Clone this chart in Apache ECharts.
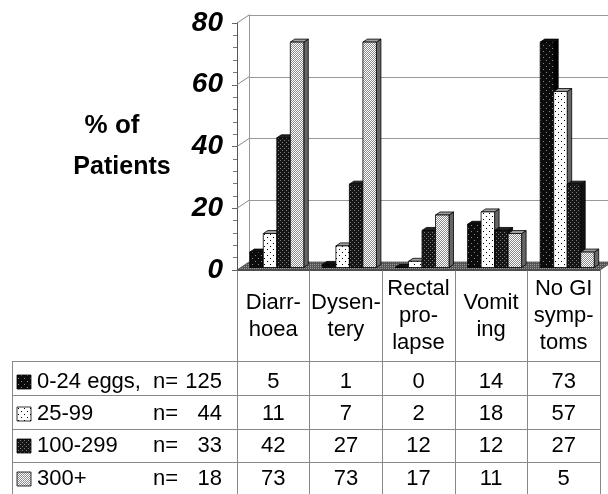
<!DOCTYPE html>
<html><head><meta charset="utf-8">
<script src="https://cdn.jsdelivr.net/npm/echarts@6/dist/echarts.min.js"></script>
<style>html,body{margin:0;padding:0;background:#fff}#c{width:608px;height:494px}</style>
</head><body><div id="c"></div>
<script>
// ---- data ----
const categories = ['Diarr-\nhoea', 'Dysen-\ntery', 'Rectal\npro-\nlapse', 'Vomit\ning', 'No GI\nsymp-\ntoms'];
const groupLabels = ['0-24 eggs,', '25-99', '100-299', '300+'];
const groupN = [125, 44, 33, 18];
const eggs0to24 = [5, 1, 0, 14, 73];
const eggs25to99 = [11, 7, 2, 18, 57];
const eggs100to299 = [42, 27, 12, 12, 27];
const eggs300plus = [73, 73, 17, 11, 5];
const yTicks = [0, 20, 40, 60, 80];
const seriesValues = [eggs0to24, eggs25to99, eggs100to299, eggs300plus];

// ---- patterns ----
function makePattern(w, h, bg, dots) {
  const c = document.createElement('canvas');
  c.width = w; c.height = h;
  const g = c.getContext('2d');
  g.fillStyle = bg; g.fillRect(0, 0, w, h);
  dots.forEach(function (d) { g.fillStyle = d[2]; g.fillRect(d[0], d[1], 1, 1); });
  return { image: c, repeat: 'repeat' };
}
const pats = [
  makePattern(6, 6, '#0c0c0c', [[0, 0, '#8a8a8a'], [3, 3, '#8a8a8a']]),
  makePattern(6, 6, '#ffffff', [[0, 0, '#000'], [3, 3, '#000']]),
  makePattern(4, 4, '#161616', [[0, 0, '#7a7a7a'], [2, 2, '#7a7a7a']]),
  makePattern(2, 2, '#8c8c8c', [[0, 0, '#fff'], [1, 1, '#fff']])
];
const topFills = ['#111', '#a0a0a0', '#222', '#a0a0a0'];
const sideFills = ['#000', '#666', '#111', '#666'];
const floorPat = makePattern(2, 2, '#555', [[0, 0, '#9a9a9a']]);

const DX0 = 3.5, DY0 = -2.5, DX = 4.5, DY = -3, WDX = 12, WDY = -8;
const FONT = "'Liberation Sans', Arial, sans-serif";

function barRender(si) {
  return function (params, api) {
    const cat = api.value(0), v = api.value(1);
    const p = api.coord([cat, v]);
    const p0 = api.coord([cat, 0]);
    const band = api.size([1, 0])[0];
    const bw = band * 0.186;
    const x0 = p[0] - 2 * bw + si * bw + DX0;
    const yT = p[1] + DY0, yB = p0[1] + DY0;
    const st = { stroke: '#000', lineWidth: 0.8 };
    return {
      type: 'group',
      children: [
        { type: 'polygon', shape: { points: [[x0 + bw, yT], [x0 + bw + DX, yT + DY], [x0 + bw + DX, yB + DY], [x0 + bw, yB]] },
          style: Object.assign({ fill: sideFills[si] }, st) },
        { type: 'polygon', shape: { points: [[x0, yT], [x0 + DX, yT + DY], [x0 + bw + DX, yT + DY], [x0 + bw, yT]] },
          style: Object.assign({ fill: topFills[si] }, st) },
        { type: 'rect', shape: { x: x0, y: yT, width: bw, height: yB - yT },
          style: Object.assign({ fill: pats[si] }, st) }
      ]
    };
  };
}

function floorRender(params, api) {
  const cs = params.coordSys;
  const x = cs.x, y = cs.y + cs.height, w = cs.width;
  const children = [
    { type: 'polygon', shape: { points: [[x, y], [x + w, y], [x + w + WDX, y + WDY], [x + WDX, y + WDY]] },
      style: { fill: floorPat, stroke: '#444', lineWidth: 0.8 } }
  ];
  yTicks.forEach(function (t) {
    if (t === 0) return;
    const yy = api.coord([0, t])[1];
    children.push({ type: 'line', shape: { x1: x, y1: yy, x2: x + WDX, y2: yy + WDY },
      style: { stroke: '#888', lineWidth: 1 } });
  });
  return { type: 'group', children: children };
}

const chart = echarts.init(document.getElementById('c'), null, { renderer: 'canvas' });

const series = [{
  type: 'custom', xAxisIndex: 0, yAxisIndex: 0, renderItem: floorRender,
  data: [[0, 0]], clip: false, silent: true, z: 1
}];
seriesValues.forEach(function (vals, si) {
  series.push({
    type: 'custom', name: groupLabels[si], xAxisIndex: 0, yAxisIndex: 0,
    renderItem: barRender(si), clip: false, z: 2,
    encode: { x: 0, y: 1 },
    data: vals.map(function (v, i) { return [i, v]; })
  });
});

chart.setOption({
  animation: false,
  backgroundColor: '#fff',
  grid: [
    { left: 237, right: 8, top: 23, bottom: 224 },
    { left: 249, right: -4, top: 15, bottom: 232 }
  ],
  xAxis: [
    {
      type: 'category', gridIndex: 0, data: categories,
      axisLine: { show: true, lineStyle: { color: '#555', width: 1 } },
      axisTick: { show: true, length: 224, lineStyle: { color: '#888', width: 1 } },
      axisLabel: {
        show: true, interval: 0, margin: 46, verticalAlign: 'middle',
        fontFamily: FONT, fontSize: 22, lineHeight: 27, color: '#000', align: 'center'
      },
      splitLine: { show: false }
    },
    { type: 'category', gridIndex: 1, data: categories, show: false }
  ],
  yAxis: [
    {
      type: 'value', gridIndex: 0, min: 0, max: 80, interval: 20,
      axisLine: { show: true, lineStyle: { color: '#555', width: 1 } },
      axisTick: { show: true, length: 5, lineStyle: { color: '#666' } },
      minorTick: { show: true, splitNumber: 5, length: 4, lineStyle: { color: '#777' } },
      axisLabel: {
        margin: 14, fontFamily: FONT, fontSize: 28, fontWeight: 'bold', fontStyle: 'italic', color: '#000'
      },
      splitLine: { show: false }
    },
    {
      type: 'value', gridIndex: 1, min: 0, max: 80, interval: 20,
      axisLine: { show: true, lineStyle: { color: '#999', width: 1 } },
      axisTick: { show: false }, axisLabel: { show: false },
      splitLine: { show: true, lineStyle: { color: '#999', width: 1 } }
    }
  ],
  series: series
});

// ---- data table below the chart ----
const rowLines = [361, 395, 429, 462];
const rowText = [382, 414, 446, 479];
const colCenters = categories.map(function (c, i) { return chart.convertToPixel({ xAxisIndex: 0 }, i); });
const tableLeft = 12, tableRight = 600;
const graphic = [];
graphic.push({ type: 'text', x: 112, y: 126, style: { text: '% of', font: "bold 26px " + FONT, fill: '#000', align: 'center', verticalAlign: 'middle' } });
graphic.push({ type: 'text', x: 122, y: 167, style: { text: 'Patients', font: "bold 25px " + FONT, fill: '#000', align: 'center', verticalAlign: 'middle' } });
rowLines.forEach(function (y) {
  graphic.push({ type: 'line', shape: { x1: tableLeft, y1: y + 0.5, x2: tableRight, y2: y + 0.5 }, style: { stroke: '#888', lineWidth: 1 } });
});
graphic.push({ type: 'line', shape: { x1: tableLeft + 0.5, y1: rowLines[0], x2: tableLeft + 0.5, y2: 494 }, style: { stroke: '#888', lineWidth: 1 } });
seriesValues.forEach(function (vals, si) {
  const ty = rowText[si];
  graphic.push({ type: 'rect', shape: { x: 17, y: ty - 7, width: 14, height: 14 }, style: { fill: pats[si], stroke: '#000', lineWidth: 0.8 } });
  graphic.push({ type: 'text', x: 37, y: ty, style: { text: groupLabels[si], font: "22px " + FONT, fill: '#000', align: 'left', verticalAlign: 'middle' } });
  graphic.push({ type: 'text', x: 153, y: ty, style: { text: 'n=', font: "22px " + FONT, fill: '#000', align: 'left', verticalAlign: 'middle' } });
  graphic.push({ type: 'text', x: 222, y: ty, style: { text: String(groupN[si]), font: "22px " + FONT, fill: '#000', align: 'right', verticalAlign: 'middle' } });
  vals.forEach(function (v, i) {
    graphic.push({ type: 'text', x: colCenters[i], y: ty, style: { text: String(v), font: "22px " + FONT, fill: '#000', align: 'center', verticalAlign: 'middle' } });
  });
});
chart.setOption({ graphic: graphic });
</script>
</body></html>
